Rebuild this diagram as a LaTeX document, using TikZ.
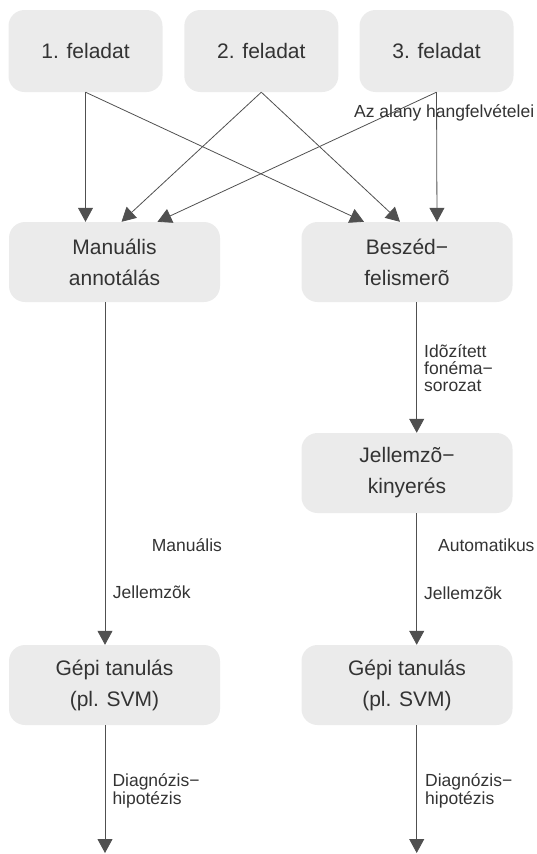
\documentclass[tikz,border=0pt]{standalone}
\usepackage{fontspec}
\setmainfont{Liberation Sans}
\usetikzlibrary{arrows.meta}
\definecolor{boxfill}{HTML}{EBEBEB}
\definecolor{txt}{HTML}{333333}
\definecolor{edge}{HTML}{505050}
\begin{document}
\begin{tikzpicture}[x=1pt,y=-1pt,
  box/.style={fill=boxfill, rounded corners=16pt, minimum width=211pt, minimum height=80pt,
    align=center, text=txt, font=\fontsize{21}{31}\selectfont, inner sep=0pt},
  topbox/.style={box, minimum width=154pt, minimum height=82pt},
  lbl/.style={text=txt, font=\fontsize{17.5}{17}\selectfont, inner sep=0pt, anchor=west, align=left},
  conn/.style={draw=edge, line width=0.8pt, -{Triangle[width=15pt,length=14pt]}}]
\useasboundingbox (0,0) rectangle (536,854);

\node[topbox] (t1) at (85.5,51) {1. feladat};
\node[topbox] (t2) at (261.3,51) {2. feladat};
\node[topbox] (t3) at (436.5,51) {3. feladat};
\node[box] (man) at (114.5,262) {Manuális\\annotálás};
\node[box] (besz) at (407,262) {Beszéd−\\felismerõ};
\node[box] (jel) at (407,473) {Jellemzõ−\\kinyerés};
\node[box] (gep1) at (114.5,685) {Gépi tanulás\\(pl. SVM)};
\node[box] (gep2) at (407,685) {Gépi tanulás\\(pl. SVM)};

\draw[conn] (t1.south) -- ([xshift=-29pt]man.north);
\draw[conn] (t1.south) -- ([xshift=-43pt]besz.north);
\draw[conn] (t2.south) -- ([xshift=7pt]man.north);
\draw[conn] (t2.south) -- ([xshift=-7pt]besz.north);
\draw[conn] (t3.south) -- ([xshift=43pt]man.north);
\draw[conn] (t3.south) -- ([xshift=30pt]besz.north);

\draw[conn] ([xshift=-9.5pt]man.south) -- ([xshift=-9.5pt]gep1.north);
\draw[conn] ([xshift=9.7pt]besz.south) -- ([xshift=9.7pt]jel.north);
\draw[conn] ([xshift=9.7pt]jel.south) -- ([xshift=9.7pt]gep2.north);
\coordinate (e1) at (105,853);
\coordinate (e2) at (416.7,853);
\draw[conn] ([xshift=-9.5pt]gep1.south) -- (e1);
\draw[conn] ([xshift=9.7pt]gep2.south) -- (e2);

\node[lbl] (l0) at (354,113) {Az alany hangfelvételei};
\node[lbl, font=\fontsize{17.5}{16.7}\selectfont] (l1) at (424,368.3) {Idõzített\\fonéma−\\sorozat};
\node[lbl] (l2) at (151.7,545) {Manuális};
\node[lbl] (l3) at (112.7,592.7) {Jellemzõk};
\node[lbl] (l4) at (438,545) {Automatikus};
\node[lbl] (l5) at (424,593) {Jellemzõk};
\node[lbl, font=\fontsize{17.5}{18}\selectfont] (l6) at (112.3,791) {Diagnózis−\\hipotézis};
\node[lbl, font=\fontsize{17.5}{18}\selectfont] (l7) at (425,791) {Diagnózis−\\hipotézis};
\end{tikzpicture}
\end{document}
